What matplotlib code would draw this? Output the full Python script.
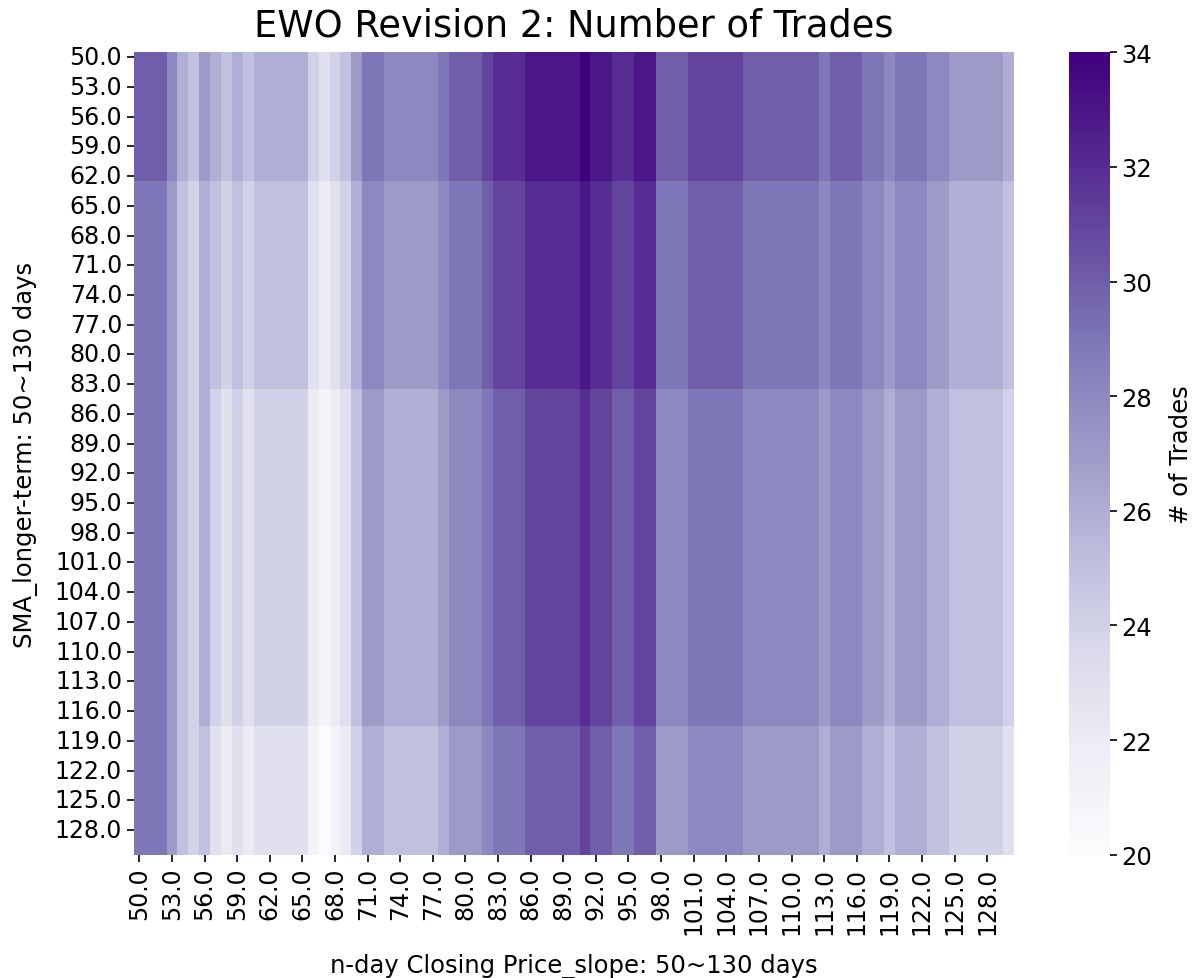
import numpy as np
import pandas as pd
import matplotlib
matplotlib.use("Agg")
import matplotlib.pyplot as plt
import seaborn as sns

# n-day slope (columns) and SMA long-term (rows), 50..130 days
slope_days = [float(d) for d in range(50, 131)]
sma_days = [float(d) for d in range(50, 131)]

# number of rows in each horizontal band (SMA 50-62, 63-83, 84-117, 118-130)
band_rows = [13, 21, 34, 13]

# number of trades per slope column, one list per SMA band
band1 = [30, 30, 30, 28, 26, 25, 27, 26, 25, 26, 25, 26, 26, 26, 26, 26, 24, 23, 24, 25,
         27, 29, 29, 28, 28, 28, 28, 28, 29, 30, 30, 30, 31, 32, 32, 32, 33, 33, 33, 33,
         33, 34, 33, 33, 32, 32, 33, 33, 30, 30, 30, 31, 31, 31, 31, 31, 30, 30, 30, 30,
         30, 30, 30, 29, 30, 30, 30, 29, 29, 28, 29, 29, 29, 28, 28, 27, 27, 27, 27, 27, 26]
band2 = [29, 29, 29, 27, 25, 24, 26, 25, 24, 25, 24, 25, 25, 25, 25, 25, 23, 22, 23, 24,
         26, 28, 28, 27, 27, 27, 27, 27, 28, 29, 29, 29, 30, 31, 31, 31, 32, 32, 32, 32,
         32, 33, 32, 32, 31, 31, 32, 32, 29, 29, 29, 30, 30, 30, 30, 30, 29, 29, 29, 29,
         29, 29, 29, 28, 29, 29, 29, 28, 28, 27, 28, 28, 28, 27, 27, 26, 26, 26, 26, 26, 25]
band3 = [29, 29, 29, 27, 25, 24, 26, 24, 23, 24, 23, 24, 24, 24, 24, 24, 22, 21, 22, 23,
         25, 27, 27, 26, 26, 26, 26, 26, 27, 28, 28, 28, 29, 30, 30, 30, 31, 31, 31, 31,
         31, 32, 31, 31, 30, 30, 31, 31, 28, 28, 28, 29, 29, 29, 29, 29, 28, 28, 28, 28,
         28, 28, 28, 27, 28, 28, 28, 27, 27, 26, 27, 27, 27, 26, 26, 25, 25, 25, 25, 25, 24]
band4 = [29, 29, 29, 27, 25, 24, 25, 23, 22, 23, 22, 23, 23, 23, 23, 23, 21, 20, 21, 22,
         24, 26, 26, 25, 25, 25, 25, 25, 26, 27, 27, 27, 28, 29, 29, 29, 30, 30, 30, 30,
         30, 31, 30, 30, 29, 29, 30, 30, 27, 27, 27, 28, 28, 28, 28, 28, 27, 27, 27, 27,
         27, 27, 27, 26, 27, 27, 27, 26, 26, 25, 26, 26, 26, 25, 25, 24, 24, 24, 24, 24, 23]

rows = []
for band, n in zip([band1, band2, band3, band4], band_rows):
    for i in range(n):
        rows.append(band)
df = pd.DataFrame(rows, index=sma_days, columns=slope_days)

fig = plt.figure(figsize=(11.95, 9.79), dpi=100)
ax = fig.add_axes([0.1121, 0.1259, 0.7367, 0.8197])
cax = fig.add_axes([0.8945, 0.1259, 0.034, 0.8197])

sns.heatmap(df, ax=ax, cbar_ax=cax, cmap="Purples", vmin=20, vmax=34,
            xticklabels=3, yticklabels=3, cbar_kws={"label": "# of Trades"})

ax.set_title("EWO Revision 2: Number of Trades", fontsize=26.5, pad=12)
ax.set_xlabel("n-day Closing Price_slope: 50~130 days", fontsize=17.5, labelpad=14)
ax.set_ylabel("SMA_longer-term: 50~130 days", fontsize=17.5, labelpad=12)
ax.tick_params(axis="both", length=5, width=1.2)
plt.setp(ax.get_xticklabels(), rotation=90, fontsize=17)
plt.setp(ax.get_yticklabels(), rotation=0, fontsize=17)

cax.tick_params(labelsize=17.5, length=5, width=1.2)
cax.set_ylabel("# of Trades", fontsize=17.5, labelpad=12)

fig.savefig("out.png", dpi=100)
